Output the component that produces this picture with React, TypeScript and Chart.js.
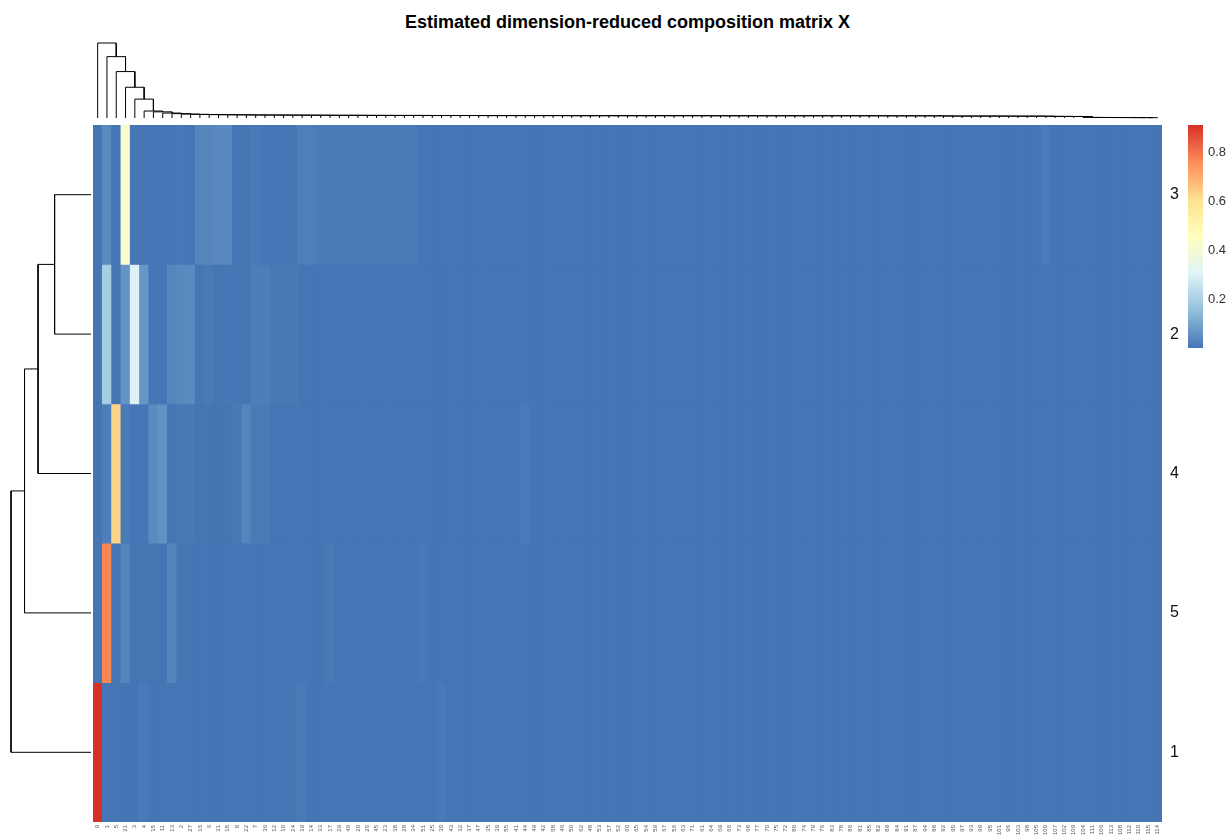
import React, { useEffect, useRef } from 'react';
import { Chart, registerables } from 'chart.js';
Chart.register(...registerables);
Chart.defaults.font.family = "'Liberation Sans', Arial, Helvetica, sans-serif";

const titleText = 'Estimated dimension-reduced composition matrix X';

const colLabels = [
  '9','1','5','21','3','4','15','11','13','2',
  '27','16','6','31','18','8','22','7','36','12',
  '10','24','19','14','33','17','29','40','20','26',
  '45','23','38','28','34','51','25','30','43','32',
  '37','47','35','39','55','41','44','49','42','58',
  '46','50','62','48','53','57','52','60','65','54',
  '59','67','56','63','71','61','64','69','66','73',
  '68','77','70','75','72','80','74','79','76','83',
  '78','86','81','85','82','89','84','91','87','94',
  '88','92','90','97','93','99','95','101','96','103',
  '98','105','100','107','102','109','104','111','106','113',
  '108','112','110','115','114',
];

const rowOrder = ['3', '2', '4', '5', '1'];

const cluster3 = [
  0.003,0.045,0.004,0.420,0.004,0.003,0.004,0.003,0.004,0.009,
  0.004,0.035,0.036,0.042,0.043,0.004,0.003,0.010,0.004,0.003,
  0.004,0.003,0.022,0.022,0.012,0.012,0.013,0.012,0.012,0.013,
  0.012,0.012,0.013,0.012,0.012,0.003,0.002,0.003,0.002,0.003,
  0.002,0.003,0.002,0.002,0.003,0.002,0.002,0.003,0.002,0.002,
  0.003,0.002,0.002,0.003,0.002,0.002,0.002,0.003,0.002,0.002,
  0.002,0.003,0.002,0.002,0.002,0.003,0.002,0.002,0.002,0.003,
  0.002,0.002,0.003,0.002,0.002,0.002,0.002,0.003,0.002,0.002,
  0.002,0.003,0.002,0.002,0.002,0.002,0.003,0.002,0.002,0.002,
  0.003,0.002,0.002,0.002,0.003,0.002,0.002,0.002,0.002,0.003,
  0.002,0.002,0.012,0.002,0.003,0.002,0.002,0.002,0.003,0.002,
  0.002,0.002,0.003,0.002,0.002,
];

const cluster2 = [
  0.003,0.195,0.003,0.064,0.300,0.072,0.004,0.004,0.035,0.042,
  0.048,0.005,0.010,0.003,0.007,0.004,0.003,0.020,0.020,0.010,
  0.010,0.010,0.003,0.002,0.003,0.002,0.002,0.003,0.002,0.002,
  0.003,0.002,0.002,0.003,0.002,0.002,0.003,0.002,0.002,0.002,
  0.002,0.003,0.002,0.002,0.003,0.002,0.002,0.003,0.002,0.002,
  0.003,0.002,0.002,0.003,0.002,0.002,0.002,0.003,0.002,0.002,
  0.002,0.003,0.002,0.002,0.002,0.003,0.002,0.002,0.002,0.003,
  0.002,0.002,0.003,0.002,0.002,0.002,0.002,0.003,0.002,0.002,
  0.002,0.003,0.002,0.002,0.002,0.002,0.003,0.002,0.002,0.002,
  0.003,0.002,0.002,0.002,0.003,0.002,0.002,0.002,0.002,0.003,
  0.002,0.002,0.003,0.002,0.003,0.002,0.002,0.002,0.003,0.002,
  0.002,0.002,0.003,0.002,0.002,
];

const cluster4 = [
  0.003,0.020,0.630,0.012,0.004,0.004,0.045,0.060,0.003,0.010,
  0.010,0.003,0.003,0.003,0.003,0.008,0.035,0.013,0.013,0.003,
  0.002,0.003,0.002,0.002,0.003,0.002,0.002,0.003,0.002,0.002,
  0.003,0.002,0.002,0.003,0.002,0.002,0.003,0.002,0.002,0.002,
  0.002,0.003,0.002,0.002,0.003,0.002,0.012,0.003,0.002,0.002,
  0.003,0.002,0.002,0.003,0.002,0.002,0.002,0.003,0.002,0.002,
  0.002,0.003,0.002,0.002,0.002,0.003,0.002,0.002,0.002,0.003,
  0.002,0.002,0.003,0.002,0.002,0.002,0.002,0.003,0.002,0.002,
  0.002,0.003,0.002,0.002,0.002,0.002,0.003,0.002,0.002,0.002,
  0.003,0.002,0.002,0.002,0.003,0.002,0.002,0.002,0.002,0.003,
  0.002,0.002,0.003,0.002,0.003,0.002,0.002,0.002,0.003,0.002,
  0.002,0.002,0.003,0.002,0.002,
];

const cluster5 = [
  0.003,0.770,0.003,0.035,0.003,0.003,0.003,0.003,0.033,0.003,
  0.003,0.002,0.003,0.002,0.002,0.003,0.002,0.002,0.003,0.002,
  0.002,0.003,0.002,0.002,0.003,0.010,0.002,0.003,0.002,0.002,
  0.003,0.002,0.002,0.003,0.002,0.008,0.002,0.003,0.002,0.002,
  0.002,0.003,0.002,0.002,0.003,0.002,0.002,0.003,0.002,0.002,
  0.003,0.002,0.002,0.003,0.002,0.002,0.002,0.003,0.002,0.002,
  0.002,0.003,0.002,0.002,0.002,0.003,0.002,0.002,0.002,0.003,
  0.002,0.002,0.003,0.002,0.002,0.002,0.002,0.003,0.002,0.002,
  0.002,0.003,0.002,0.002,0.002,0.002,0.003,0.002,0.002,0.002,
  0.003,0.002,0.002,0.002,0.003,0.002,0.002,0.002,0.002,0.003,
  0.002,0.002,0.003,0.002,0.003,0.002,0.002,0.002,0.003,0.002,
  0.002,0.002,0.003,0.002,0.002,
];

const cluster1 = [
  0.910,0.002,0.002,0.002,0.002,0.010,0.002,0.002,0.002,0.002,
  0.002,0.002,0.003,0.002,0.002,0.003,0.002,0.002,0.003,0.002,
  0.002,0.002,0.013,0.002,0.003,0.002,0.002,0.003,0.002,0.002,
  0.003,0.002,0.002,0.003,0.002,0.002,0.002,0.010,0.002,0.002,
  0.002,0.003,0.002,0.002,0.003,0.002,0.002,0.003,0.002,0.002,
  0.003,0.002,0.002,0.003,0.002,0.002,0.002,0.003,0.002,0.002,
  0.002,0.003,0.002,0.002,0.002,0.003,0.002,0.002,0.002,0.003,
  0.002,0.002,0.003,0.002,0.002,0.002,0.002,0.003,0.002,0.002,
  0.002,0.003,0.002,0.002,0.002,0.002,0.003,0.002,0.002,0.002,
  0.003,0.002,0.002,0.002,0.003,0.002,0.002,0.002,0.002,0.003,
  0.002,0.002,0.003,0.002,0.003,0.002,0.002,0.002,0.003,0.002,
  0.002,0.002,0.003,0.002,0.002,
];

const rowValues = [cluster3, cluster2, cluster4, cluster5, cluster1];

// row dendrogram (hclust-style: negative = leaf position, positive = earlier merge)
const rowMerge = [[-1, -2], [1, -3], [2, -4], [3, -5]];
const rowMergeHeight = [0.455, 0.662, 0.831, 1.0];

// column dendrogram: column i joins the cluster of the columns to its right at this height
const colJoinHeight = [
  1.000,0.818,0.619,0.410,0.252,0.093,0.082,0.066,0.058,0.052,
  0.049,0.047,0.045,0.044,0.043,0.042,0.041,0.040,0.040,0.039,
  0.039,0.038,0.038,0.037,0.037,0.036,0.036,0.036,0.035,0.035,
  0.035,0.034,0.034,0.034,0.034,0.033,0.033,0.033,0.033,0.033,
  0.033,0.032,0.032,0.032,0.032,0.032,0.032,0.032,0.032,0.032,
  0.031,0.031,0.031,0.031,0.031,0.031,0.031,0.031,0.031,0.031,
  0.031,0.031,0.031,0.031,0.031,0.030,0.030,0.030,0.030,0.030,
  0.030,0.030,0.030,0.030,0.030,0.030,0.030,0.030,0.030,0.030,
  0.030,0.030,0.030,0.030,0.029,0.029,0.029,0.029,0.029,0.029,
  0.028,0.026,0.026,0.026,0.026,0.026,0.026,0.025,0.025,0.025,
  0.025,0.025,0.022,0.021,0.021,0.020,0.008,0.007,0.007,0.006,
  0.006,0.005,0.005,0.004,
];

const paletteStops = ['#4575B4', '#91BFDB', '#E0F3F8', '#FFFFBF', '#FEE090', '#FC8D59', '#D73027'];
const legendTicks = [0.2, 0.4, 0.6, 0.8];

const allVals = rowValues.flat();
const vMin = Math.min(...allVals);
const vMax = Math.max(...allVals);

function hexRgb(h: string) {
  const n = parseInt(h.slice(1), 16);
  return [(n >> 16) & 255, (n >> 8) & 255, n & 255];
}
const stopRgb = paletteStops.map(hexRgb);
function colorFor(v: number) {
  let t = (v - vMin) / (vMax - vMin);
  t = Math.max(0, Math.min(1, t)) * (paletteStops.length - 1);
  const i = Math.min(paletteStops.length - 2, Math.floor(t));
  const f = t - i;
  const a = stopRgb[i], b = stopRgb[i + 1];
  const c = a.map((x, k) => Math.round(x + (b[k] - x) * f));
  return `rgb(${c[0]},${c[1]},${c[2]})`;
}

// build hclust-style merges for the column chain
function chainMerges(joinH: number[]) {
  const n = joinH.length + 1;
  const merges: number[][] = [];
  const heights: number[] = [];
  for (let k = n - 2; k >= 0; k--) {
    const a = -(k + 1);
    const b = k === n - 2 ? -n : merges.length;
    merges.push([a, b]);
    heights.push(joinH[k]);
  }
  return { merges, heights };
}

function dendroSegments(merges: number[][], heights: number[]) {
  const pos: number[] = [];
  const hgt: number[] = [];
  const P = (id: number) => (id < 0 ? -id - 1 : pos[id - 1]);
  const H = (id: number) => (id < 0 ? 0 : hgt[id - 1]);
  const segs: number[][][] = [];
  merges.forEach(([a, b], i) => {
    const h = heights[i];
    const pa = P(a), pb = P(b);
    segs.push([[pa, H(a)], [pa, h], [pb, h], [pb, H(b)]]);
    pos.push((pa + pb) / 2);
    hgt.push(h);
  });
  return segs;
}

const HM_LEFT = 93, HM_TOP = 125, HM_W = 1069, HM_H = 697;

function useChart(ref: React.RefObject<HTMLCanvasElement>, make: () => any) {
  useEffect(() => {
    if (!ref.current) return;
    const chart = new Chart(ref.current, make());
    return () => chart.destroy();
  }, []);
}

export default function App() {
  const topRef = useRef<HTMLCanvasElement>(null);
  const leftRef = useRef<HTMLCanvasElement>(null);
  const hmRef = useRef<HTMLCanvasElement>(null);
  const legRef = useRef<HTMLCanvasElement>(null);

  const lineDs = (seg: number[][], swap: boolean) => ({
    data: seg.map(([p, h]) => (swap ? { x: h, y: p } : { x: p, y: h })),
    showLine: true,
    borderColor: '#000',
    borderWidth: 1,
    pointRadius: 0,
    fill: false,
    tension: 0,
    clip: false,
  });

  const baseOpts = {
    responsive: false,
    animation: false,
    devicePixelRatio: 1,
    events: [],
    plugins: { legend: { display: false }, tooltip: { enabled: false }, title: { display: false } },
  };

  useChart(topRef, () => {
    const { merges, heights } = chainMerges(colJoinHeight);
    const segs = dendroSegments(merges, heights);
    return {
      type: 'scatter',
      data: { datasets: segs.map((s) => lineDs(s, false)) },
      options: {
        ...baseOpts,
        layout: { padding: { top: 3, bottom: 2, left: 0, right: 0 } },
        scales: {
          x: { type: 'linear', display: false, min: -0.5, max: colLabels.length - 0.5 },
          y: { type: 'linear', display: false, min: 0, max: Math.max(...colJoinHeight) },
        },
      },
    };
  });

  useChart(leftRef, () => {
    const segs = dendroSegments(rowMerge, rowMergeHeight);
    return {
      type: 'scatter',
      data: { datasets: segs.map((s) => lineDs(s, true)) },
      options: {
        ...baseOpts,
        layout: { padding: { top: 0, bottom: 0, left: 3, right: 2 } },
        scales: {
          x: { type: 'linear', display: false, min: 0, max: Math.max(...rowMergeHeight), reverse: true },
          y: { type: 'linear', display: false, min: -0.5, max: rowOrder.length - 0.5, reverse: true },
        },
      },
    };
  });

  useChart(hmRef, () => ({
    type: 'bar',
    data: {
      labels: colLabels,
      datasets: rowValues.map((vals, r) => ({
        label: rowOrder[r],
        data: vals.map(() => [r, r + 1]),
        backgroundColor: vals.map((v) => colorFor(v)),
        borderWidth: 0,
        barPercentage: 1,
        categoryPercentage: 1,
        grouped: false,
      })),
    },
    options: {
      ...baseOpts,
      layout: { padding: 0 },
      scales: {
        x: {
          type: 'category',
          grid: { display: false, drawTicks: false },
          border: { display: false },
          ticks: {
            autoSkip: false,
            minRotation: 90,
            maxRotation: 90,
            font: { size: 6 },
            color: '#555',
            padding: 3,
          },
          afterFit: (axis: any) => {
            axis.height = 14;
            axis.paddingLeft = 0;
            axis.paddingRight = 0;
          },
        },
        y: {
          type: 'linear',
          position: 'right',
          min: 0,
          max: rowOrder.length,
          reverse: true,
          grid: { display: false, drawTicks: false },
          border: { display: false },
          afterBuildTicks: (axis: any) => {
            axis.ticks = rowOrder.map((_, i) => ({ value: i + 0.5 }));
          },
          ticks: {
            autoSkip: false,
            font: { size: 16 },
            color: '#111',
            padding: 8,
            callback: (value: any) => rowOrder[Math.floor(Number(value))],
          },
          afterFit: (axis: any) => {
            axis.width = 32;
            axis.paddingTop = 0;
            axis.paddingBottom = 0;
          },
        },
      },
    },
  }));

  useChart(legRef, () => ({
    type: 'bar',
    data: {
      labels: [''],
      datasets: [
        {
          data: [[vMin, vMax]],
          backgroundColor: (ctx: any) => {
            const chart = ctx.chart;
            if (!chart.chartArea) return paletteStops[0];
            const y0 = chart.scales.y.getPixelForValue(vMin);
            const y1 = chart.scales.y.getPixelForValue(vMax);
            const g = chart.ctx.createLinearGradient(0, y0, 0, y1);
            paletteStops.forEach((c, i) => g.addColorStop(i / (paletteStops.length - 1), c));
            return g;
          },
          borderWidth: 0,
          barPercentage: 1,
          categoryPercentage: 1,
        },
      ],
    },
    options: {
      ...baseOpts,
      layout: { padding: { top: 7, bottom: 6, left: 0, right: 0 } },
      scales: {
        x: { display: false },
        y: {
          type: 'linear',
          position: 'right',
          min: vMin,
          max: vMax,
          grid: { display: false, drawTicks: false },
          border: { display: false },
          afterBuildTicks: (axis: any) => {
            axis.ticks = legendTicks.map((v) => ({ value: v }));
          },
          ticks: {
            autoSkip: false,
            font: { size: 13 },
            color: '#333',
            padding: 5,
            callback: (value: any) => Number(value).toFixed(1),
          },
          afterFit: (axis: any) => {
            axis.width = 28;
            axis.paddingTop = 0;
            axis.paddingBottom = 0;
          },
        },
      },
    },
  }));

  const abs = (left: number, top: number): React.CSSProperties => ({
    position: 'absolute',
    left,
    top,
    display: 'block',
  });

  return (
    <div style={{ position: 'absolute', left: 0, top: 0, width: 1231, height: 836, background: '#fff', overflow: 'hidden' }}>
      <div
        style={{
          position: 'absolute',
          left: HM_LEFT,
          top: 12,
          width: HM_W,
          textAlign: 'center',
          fontFamily: "'Liberation Sans', Arial, sans-serif",
          fontWeight: 'bold',
          fontSize: 18,
          lineHeight: '20px',
          color: '#000',
        }}
      >
        {titleText}
      </div>
      <canvas ref={topRef} width={HM_W} height={80} style={abs(HM_LEFT, 40)} />
      <canvas ref={leftRef} width={85} height={HM_H} style={abs(8, HM_TOP)} />
      <canvas ref={hmRef} width={HM_W + 32} height={HM_H + 14} style={abs(HM_LEFT, HM_TOP)} />
      <canvas ref={legRef} width={43} height={236} style={abs(1188, 118)} />
    </div>
  );
}
